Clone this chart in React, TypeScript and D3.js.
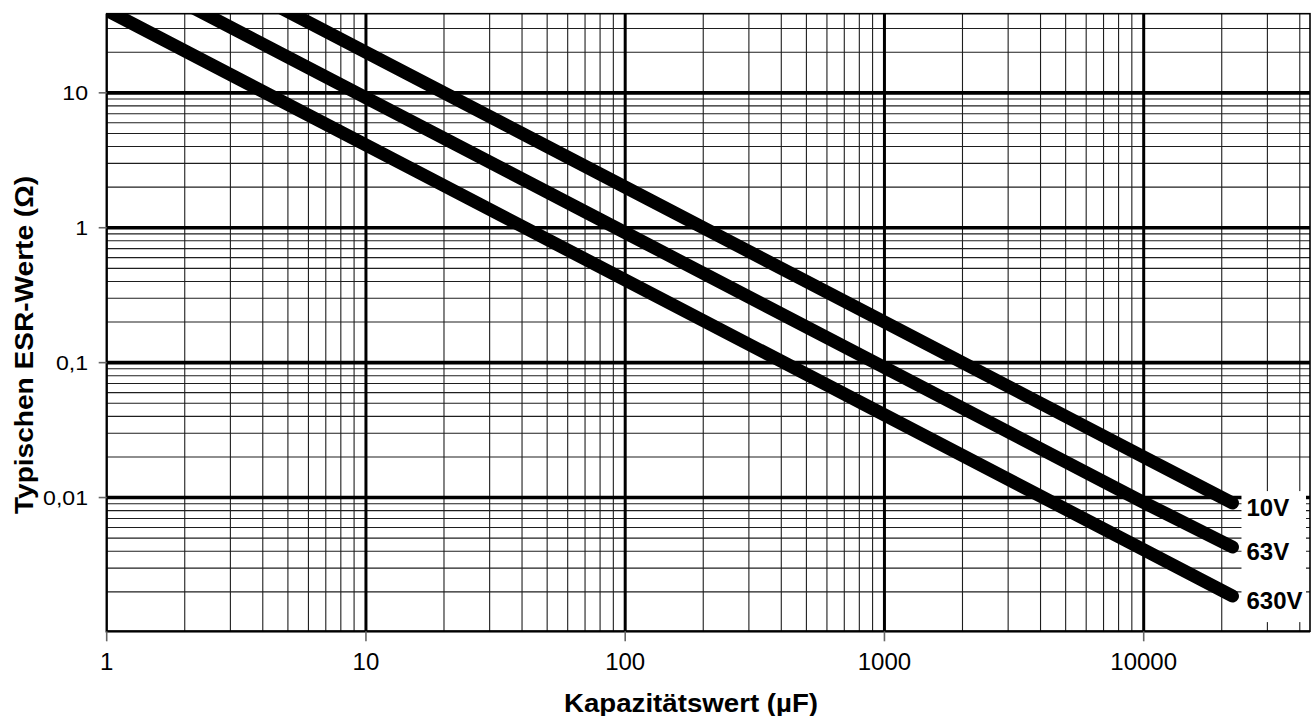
import React, { useEffect, useRef } from "react";
import * as d3 from "d3";

// capacitance (µF) sample points
const capacitance = [1, 10, 100, 1000, 10000, 22000];
// typical ESR (Ω) per voltage class
const esr10V = [200, 20, 2, 0.2, 0.02, 0.0091];
const esr63V = [92, 9.2, 0.92, 0.092, 0.0092, 0.0043];
const esr630V = [41, 4.1, 0.41, 0.041, 0.0041, 0.00186];
const seriesNames = ["10V", "63V", "630V"];

const xTickValues = [1, 10, 100, 1000, 10000];
const xTickLabels = ["1", "10", "100", "1000", "10000"];
const yTickValues = [0.01, 0.1, 1, 10];
const yTickLabels = ["0,01", "0,1", "1", "10"];

const xTitle = "Kapazitätswert (µF)";
const yTitle = "Typischen ESR-Werte (Ω)";

const W = 1313;
const H = 716;
const FONT = "'Liberation Sans', Arial, Helvetica, sans-serif";

const App = () => {
  const svgRef = useRef<SVGSVGElement>(null);

  useEffect(() => {
    const svg = d3.select(svgRef.current);
    svg.selectAll("*").remove();

    const left = 106.7;
    const right = 1310;
    const top = 13.7;
    const bottom = 631.3;

    const x = d3.scaleLog().domain([1, 43800]).range([left, right]);
    const y = d3.scaleLog().domain([0.00102, 38.6]).range([bottom, top]);

    svg.append("rect").attr("width", W).attr("height", H).attr("fill", "#fff");

    // grid values for a log axis: k * 10^e inside the domain
    const logGrid = (domain: number[]) => {
      const out: { v: number; major: boolean }[] = [];
      const e0 = Math.floor(Math.log10(domain[0]));
      const e1 = Math.ceil(Math.log10(domain[1]));
      for (let e = e0; e <= e1; e++) {
        for (let k = 1; k <= 9; k++) {
          const v = k * Math.pow(10, e);
          if (v >= domain[0] * 0.999 && v <= domain[1]) out.push({ v, major: k === 1 });
        }
      }
      return out;
    };

    const xGrid = logGrid(x.domain());
    const yGrid = logGrid(y.domain());

    const grid = svg.append("g");
    // minor lines
    grid
      .selectAll("line.xminor")
      .data(xGrid.filter((d) => !d.major))
      .join("line")
      .attr("x1", (d) => x(d.v))
      .attr("x2", (d) => x(d.v))
      .attr("y1", top)
      .attr("y2", bottom)
      .attr("stroke", "#1e1e1e")
      .attr("stroke-width", 1.1);
    grid
      .selectAll("line.yminor")
      .data(yGrid.filter((d) => !d.major))
      .join("line")
      .attr("x1", left)
      .attr("x2", right)
      .attr("y1", (d) => y(d.v))
      .attr("y2", (d) => y(d.v))
      .attr("stroke", "#1e1e1e")
      .attr("stroke-width", 1.1);
    // major lines
    grid
      .selectAll("line.xmajor")
      .data(xGrid.filter((d) => d.major && d.v > 1))
      .join("line")
      .attr("x1", (d) => x(d.v))
      .attr("x2", (d) => x(d.v))
      .attr("y1", top)
      .attr("y2", bottom)
      .attr("stroke", "#000")
      .attr("stroke-width", 3);
    grid
      .selectAll("line.ymajor")
      .data(yGrid.filter((d) => d.major))
      .join("line")
      .attr("x1", left)
      .attr("x2", right)
      .attr("y1", (d) => y(d.v))
      .attr("y2", (d) => y(d.v))
      .attr("stroke", "#000")
      .attr("stroke-width", 3.6);

    // series lines, clipped to plot area
    svg
      .append("clipPath")
      .attr("id", "plot-clip")
      .append("rect")
      .attr("x", left)
      .attr("y", top)
      .attr("width", right - left)
      .attr("height", bottom - top);

    const series = [esr10V, esr63V, esr630V].map((vals, i) => ({
      name: seriesNames[i],
      points: vals.map((v, j) => [capacitance[j], v] as [number, number]),
    }));

    const line = d3
      .line<[number, number]>()
      .x((d) => x(d[0]))
      .y((d) => y(d[1]));

    svg
      .append("g")
      .attr("clip-path", "url(#plot-clip)")
      .selectAll("path")
      .data(series)
      .join("path")
      .attr("d", (d) => line(d.points))
      .attr("fill", "none")
      .attr("stroke", "#000")
      .attr("stroke-width", 13)
      .attr("stroke-linecap", "round");

    // end labels on a white box
    const ends = series.map((s) => s.points[s.points.length - 1]);
    const endX = x(ends[0][0]);
    const boxTop = y(ends[0][1]) + 4 - 16;
    const boxBottom = y(ends[ends.length - 1][1]) + 4 + 22;
    svg
      .append("rect")
      .attr("x", endX + 9)
      .attr("y", boxTop)
      .attr("width", right - 4 - (endX + 9))
      .attr("height", boxBottom - boxTop)
      .attr("fill", "#fff");

    svg
      .append("g")
      .selectAll("text")
      .data(series)
      .join("text")
      .attr("x", endX + 14)
      .attr("y", (d) => y(d.points[d.points.length - 1][1]) + 12.5)
      .attr("font-family", FONT)
      .attr("font-weight", "bold")
      .attr("font-size", 24)
      .attr("fill", "#000")
      .text((d) => d.name);

    // plot frame
    svg
      .append("rect")
      .attr("x", left)
      .attr("y", top)
      .attr("width", right - left)
      .attr("height", bottom - top)
      .attr("fill", "none")
      .attr("stroke", "#000")
      .attr("stroke-width", 1.6);
    svg
      .append("path")
      .attr("d", `M${left},${top}V${bottom}H${right}`)
      .attr("fill", "none")
      .attr("stroke", "#000")
      .attr("stroke-width", 2.2);

    // x ticks + labels
    const xt = svg.append("g");
    xt.selectAll("line")
      .data(xTickValues)
      .join("line")
      .attr("x1", (d) => x(d))
      .attr("x2", (d) => x(d))
      .attr("y1", bottom)
      .attr("y2", bottom + 10)
      .attr("stroke", "#666")
      .attr("stroke-width", 1.6);
    xt.selectAll("text")
      .data(xTickValues)
      .join("text")
      .attr("x", (d) => x(d))
      .attr("y", 670)
      .attr("text-anchor", "middle")
      .attr("font-family", FONT)
      .attr("font-size", 24)
      .attr("fill", "#000")
      .text((d, i) => xTickLabels[i]);

    // y ticks + labels
    const yt = svg.append("g");
    yt.selectAll("line")
      .data(yTickValues)
      .join("line")
      .attr("x1", left - 8)
      .attr("x2", left)
      .attr("y1", (d) => y(d))
      .attr("y2", (d) => y(d))
      .attr("stroke", "#666")
      .attr("stroke-width", 1.6);
    yt.selectAll("g")
      .data(yTickValues)
      .join("g")
      .attr("transform", (d) => `translate(88,${y(d) + 7.5}) scale(1.1,1)`)
      .append("text")
      .attr("text-anchor", "end")
      .attr("font-family", FONT)
      .attr("font-size", 21)
      .attr("fill", "#000")
      .text((d, i) => yTickLabels[i]);

    // axis titles
    svg
      .append("text")
      .attr("x", 691)
      .attr("y", 711.5)
      .attr("text-anchor", "middle")
      .attr("font-family", FONT)
      .attr("font-weight", "bold")
      .attr("font-size", 26)
      .attr("textLength", 254)
      .attr("lengthAdjust", "spacingAndGlyphs")
      .attr("fill", "#000")
      .text(xTitle);

    svg
      .append("text")
      .attr("transform", "translate(33,345) rotate(-90)")
      .attr("text-anchor", "middle")
      .attr("font-family", FONT)
      .attr("font-weight", "bold")
      .attr("font-size", 25)
      .attr("textLength", 338)
      .attr("lengthAdjust", "spacingAndGlyphs")
      .attr("fill", "#000")
      .text(yTitle);
  }, []);

  return (
    <div style={{ position: "absolute", left: 0, top: 0, width: W, height: H }}>
      <svg ref={svgRef} width={W} height={H} style={{ display: "block" }} />
    </div>
  );
};

export default App;
